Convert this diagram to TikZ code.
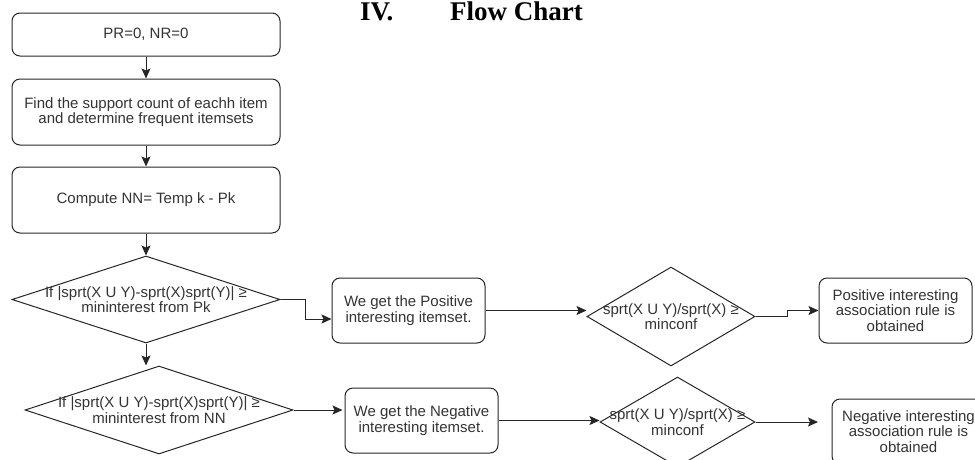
\documentclass[tikz,border=0pt]{standalone}
\usepackage{fontspec}
\setmainfont{Liberation Sans}
\newfontfamily\headfont{Liberation Serif}
\usetikzlibrary{shapes.geometric, arrows.meta}

\begin{document}
\begin{tikzpicture}[x = 1pt, y = 1pt,
        every node/.style = {text = black!80, font = \fontsize{15}{15.5}\selectfont},
        stepbox/.style = {draw = black!85, line width = 1pt, rounded corners = 8pt, align = center, inner sep = 0pt},
        testbox/.style = {draw = black!85, line width = 1pt, diamond, inner sep = 0pt},
        flow/.style = {draw = black!85, line width = 1pt, -{Stealth[length = 10pt, width = 9pt, inset = 2pt]}},
        heading/.style = {text = black, font = \fontsize{27}{28}\selectfont\headfont\bfseries, inner sep = 0pt, anchor = base west}]

        \useasboundingbox (0.0, 0.0) rectangle (975.0, -459.0);
        \clip (0.0, 0.0) rectangle (975.0, -459.0);

        \node [heading] (secno) at (360.0, -20.5) {IV.};
        \node [heading] (secname) at (450.0, -20.5) {Flow Chart};

        \node [stepbox, minimum width = 268, minimum height = 43] (init) at (146.0, -34.5) {PR=0, NR=0};
        \node [stepbox, minimum width = 268, minimum height = 66] (count) at (146.0, -112.0) {Find the support count of eachh item\\and determine frequent itemsets};
        \node [stepbox, minimum width = 268, minimum height = 66] (nn) at (146.0, -200.0) {Compute NN= Temp k - Pk};

        \node [testbox, minimum width = 268, minimum height = 87, label = {[align = center] center:If |sprt(X U Y)-sprt(X)sprt(Y)| ≥\\mininterest from Pk}] (posint) at (146.0, -299.5) {};
        \node [testbox, minimum width = 268, minimum height = 88, label = {[align = center] center:If |sprt(X U Y)-sprt(X)sprt(Y)| ≥\\mininterest from NN}] (negint) at (159.0, -410.0) {};

        \node [stepbox, minimum width = 153, minimum height = 65] (posset) at (408.5, -310.5) {We get the Positive\\interesting itemset.};
        \node [stepbox, minimum width = 153, minimum height = 65] (negset) at (421.5, -420.5) {We get the Negative\\interesting itemset.};

        \node [testbox, minimum width = 168, minimum height = 99, label = {[align = center] center:sprt(X U Y)/sprt(X) ≥\\minconf}] (posconf) at (671.0, -316.5) {};
        \node [testbox, minimum width = 155, minimum height = 90, label = {[align = center] center:sprt(X U Y)/sprt(X) ≥\\minconf}] (negconf) at (677.5, -422.0) {};

        \node [stepbox, minimum width = 153, minimum height = 65] (posrule) at (895.5, -310.5) {Positive interesting\\association rule is\\obtained};
        \node [stepbox, minimum width = 153, minimum height = 65] (negrule) at (908.5, -431.5) {Negative interesting\\association rule is\\obtained};
        \coordinate (negend) at (818.0, -422.0);

        \draw [flow] (init.south) -- (count.north);
        \draw [flow] (count.south) -- (nn.north);
        \draw [flow] (nn.south) -- (posint.north);
        \draw [flow] (posint.south) -- (negint.north -| posint.south);

        \draw [flow] (posint.east) -- ++(25.0, 0.0) |- ([yshift = -8.5pt] posset.west);
        \draw [flow] (posset.east) -- (posset.east -| posconf.west);
        \draw [flow] (posconf.east) -- ++(32.0, 0.0) |- (posrule.west);

        \draw [flow] (negint.east) -- ([xshift = -2pt, yshift = 10.5pt] negset.west);
        \draw [flow] (negset.east) -- (negset.east -| negconf.west);
        \draw [flow] (negconf.east) -- (negend);
    \end{tikzpicture}
\end{document}
